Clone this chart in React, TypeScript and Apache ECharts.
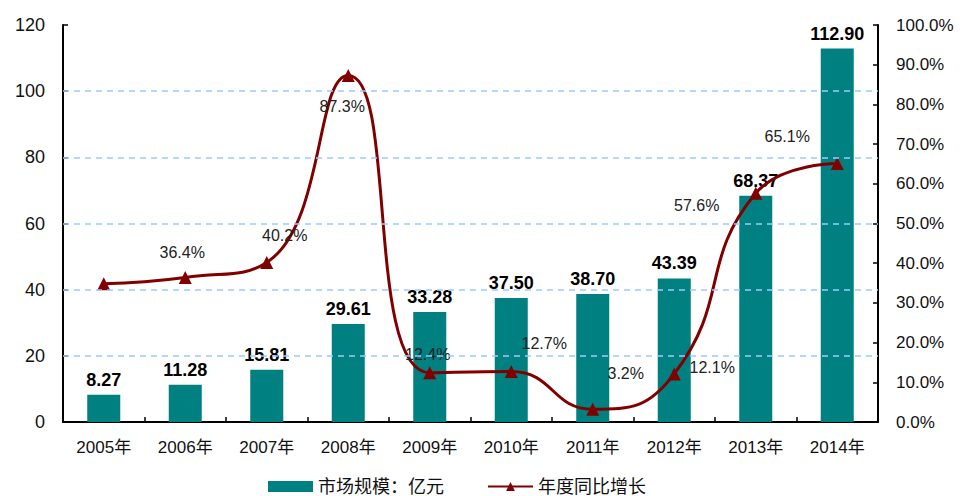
import React, { useEffect, useRef } from "react";
import * as echarts from "echarts";

const categories = ["2005年", "2006年", "2007年", "2008年", "2009年", "2010年", "2011年", "2012年", "2013年", "2014年"];
const marketSize = [8.27, 11.28, 15.81, 29.61, 33.28, 37.5, 38.7, 43.39, 68.37, 112.9];
const growth = [34.8, 36.4, 40.2, 87.3, 12.4, 12.7, 3.2, 12.1, 57.6, 65.1];
const growthLabelShown = [false, true, true, true, true, true, true, true, true, true];
const growthLabelOffset: [number, number][] = [
  [0, -25], [-3, -25], [18, -27], [-6, 31], [-2, -18], [33, -28], [33, -36], [38, -6], [-59, 12], [-50, -27],
];
const gridValues = [20, 40, 60, 80, 100];
const seriesNames = ["市场规模：亿元", "年度同比增长"];

export default function App() {
  const ref = useRef<HTMLDivElement>(null);
  useEffect(() => {
    if (!ref.current) return;
    const chart = echarts.init(ref.current, undefined, { renderer: "svg" });
    const font = "Arial, 'Liberation Sans', 'Noto Sans CJK SC', sans-serif";
    const legendBase = {
      top: 477,
      itemWidth: 45,
      itemHeight: 11,
      padding: 0,
      textStyle: { fontSize: 18, lineHeight: 19, color: "#111", fontFamily: font },
    };
    chart.setOption({
      animation: false,
      textStyle: { fontFamily: font },
      grid: { left: 63, right: 88, top: 25, bottom: 74, containLabel: false },
      legend: [
        { ...legendBase, left: 268, data: [{ name: seriesNames[0], icon: "rect" }] },
        { ...legendBase, left: 487, data: [{ name: seriesNames[1] }] },
      ],
      xAxis: {
        type: "category",
        data: categories,
        boundaryGap: true,
        axisLine: { lineStyle: { color: "#000", width: 2 } },
        axisTick: { show: true, inside: true, length: 5, lineStyle: { color: "#000", width: 1.5 } },
        axisLabel: { color: "#111", fontSize: 17, margin: 17 },
      },
      yAxis: [
        {
          type: "value",
          min: 0,
          max: 120,
          interval: 20,
          axisLine: { show: true, lineStyle: { color: "#000", width: 2 } },
          axisTick: { show: true, inside: true, length: 5, lineStyle: { color: "#000", width: 1.5 } },
          axisLabel: { color: "#111", fontSize: 18, margin: 18 },
          splitLine: { show: false },
        },
        {
          type: "value",
          min: 0,
          max: 100,
          interval: 10,
          position: "right",
          axisLine: { show: true, lineStyle: { color: "#000", width: 2 } },
          axisTick: { show: true, inside: true, length: 5, lineStyle: { color: "#000", width: 1.5 } },
          axisLabel: { color: "#111", fontSize: 17, margin: 18, formatter: (v: number) => v.toFixed(1) + "%" },
          splitLine: { show: false },
        },
      ],
      series: [
        {
          name: seriesNames[0],
          type: "bar",
          yAxisIndex: 0,
          data: marketSize,
          barWidth: 33,
          itemStyle: { color: "#008080" },
          label: {
            show: true,
            position: "top",
            distance: 6,
            fontSize: 18,
            fontWeight: "bold",
            color: "#000",
            formatter: (p: any) => Number(p.value).toFixed(2),
          },
          markLine: {
            silent: true,
            symbol: "none",
            label: { show: false },
            lineStyle: { color: "#99CCFF", type: [6, 5], width: 1.5 },
            data: gridValues.map((v) => ({ yAxis: v })),
          },
          z: 1,
        },
        {
          name: seriesNames[1],
          type: "line",
          yAxisIndex: 1,
          smooth: 0.5,
          symbol: "triangle",
          symbolSize: 13,
          itemStyle: { color: "#800000" },
          lineStyle: { color: "#800000", width: 3 },
          data: growth.map((v, i) => ({
            value: v,
            label: {
              show: growthLabelShown[i],
              position: "inside",
              offset: growthLabelOffset[i],
              fontSize: 16,
              color: "#222",
              formatter: (p: any) => Number(p.value).toFixed(1) + "%",
            },
          })),
          z: 3,
        },
      ],
    });
    return () => chart.dispose();
  }, []);
  return (
    <div
      ref={ref}
      style={{ position: "absolute", left: 0, top: 0, width: 966, height: 496 }}
    />
  );
}
